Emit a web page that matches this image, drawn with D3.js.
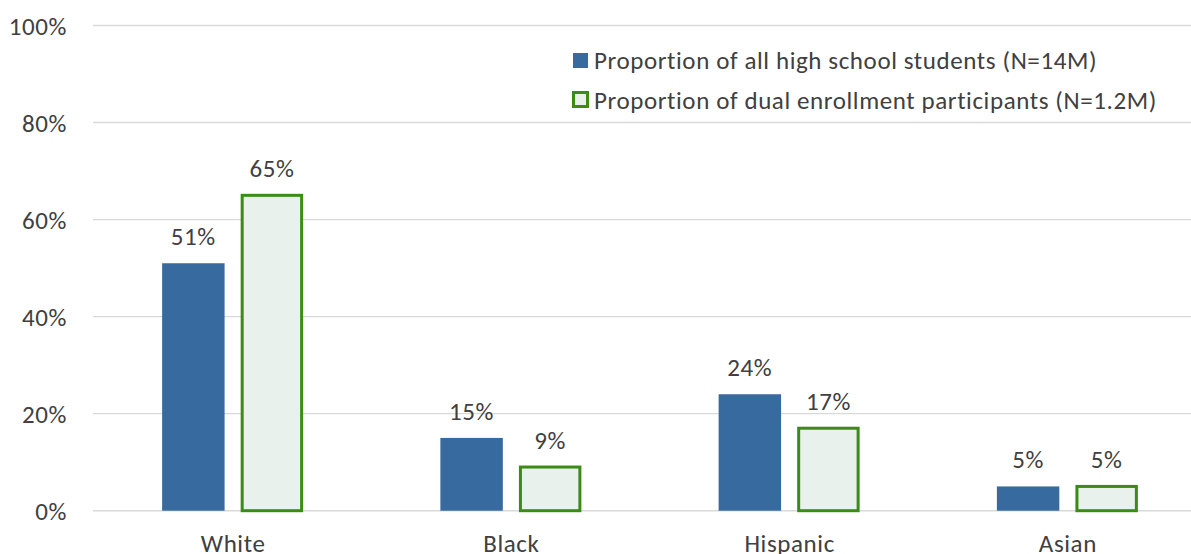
<!DOCTYPE html>
<html><head><meta charset="utf-8">
<script src="https://cdn.jsdelivr.net/npm/d3@7"></script>
<style>
html,body{margin:0;padding:0;background:#fff;}
svg text{font-family:Carlito, Calibri, Lato, "Noto Sans", sans-serif;fill:#404040;letter-spacing:0.6px;}
</style></head>
<body>
<svg id="chart" width="1191" height="554"></svg>
<script>
const categories = ["White", "Black", "Hispanic", "Asian"];
const seriesNames = ["Proportion of all high school students (N=14M)", "Proportion of dual enrollment participants (N=1.2M)"];
const allStudents = [51, 15, 24, 5];
const dualEnrollment = [65, 9, 17, 5];
const yTicks = [0, 20, 40, 60, 80, 100];

const svg = d3.select("#chart");
const W = 1191, H = 554;
const FS = 25;
const plot = {left: 94, right: 1207, top: 25.5, bottom: 510.7};

const y = d3.scaleLinear().domain([0, 100]).range([plot.bottom, plot.top]);
const x0 = d3.scaleBand().domain(categories).range([plot.left, plot.right]).padding(0);
const x1 = d3.scaleBand().domain([0, 1]).range([0, 141]).paddingInner(0.205).paddingOuter(0);

// gridlines
svg.append("g").selectAll("line").data(yTicks).join("line")
  .attr("x1", 93).attr("x2", W)
  .attr("y1", d => y(d)).attr("y2", d => y(d))
  .attr("stroke", "#d9d9d9").attr("stroke-width", 1.4);

// y axis labels
const yAxis = d3.axisLeft(y).tickValues(yTicks).tickFormat(d => d + "%").tickSize(0).tickPadding(0);
const ya = svg.append("g").attr("transform", "translate(67,0)").call(yAxis);
ya.select(".domain").remove();
ya.selectAll("text").attr("font-size", FS).attr("fill", "#404040").attr("dy", "0.35em");

// x axis labels
const xAxis = d3.axisBottom(x0).tickSize(0).tickPadding(0);
const xa = svg.append("g").attr("transform", "translate(0,552)").call(xAxis);
xa.select(".domain").remove();
xa.selectAll("text").attr("font-size", FS).attr("dy", 0).attr("fill", "#404040");

const series = [allStudents, dualEnrollment];
const groupOffset = i => x0(categories[i]) + x0.bandwidth() / 2 - 71;

const g = svg.append("g");
// blue bars
g.selectAll("rect.s0").data(allStudents).join("rect").attr("class", "s0")
  .attr("x", (d, i) => groupOffset(i) + x1(0))
  .attr("width", x1.bandwidth())
  .attr("y", d => y(d)).attr("height", d => y(0) - y(d))
  .attr("fill", "#376a9f");
// green outlined bars
g.selectAll("rect.s1").data(dualEnrollment).join("rect").attr("class", "s1")
  .attr("x", (d, i) => groupOffset(i) + x1(1) + 1.5)
  .attr("width", x1.bandwidth() - 3)
  .attr("y", d => y(d)).attr("height", d => y(0) - y(d))
  .attr("fill", "#e8f1eb").attr("stroke", "#3a8c14").attr("stroke-width", 3);

// data labels
[0, 1].forEach(s => {
  g.selectAll("text.l" + s).data(series[s]).join("text").attr("class", "l" + s)
    .attr("x", (d, i) => groupOffset(i) + x1(s) + x1.bandwidth() / 2)
    .attr("y", d => y(d) - 18)
    .attr("text-anchor", "middle").attr("font-size", FS)
    .text(d => d + "%");
});

// legend
const lg = svg.append("g");
lg.append("rect").attr("x", 573).attr("y", 53).attr("width", 15).attr("height", 15).attr("fill", "#376a9f");
lg.append("rect").attr("x", 573.5).attr("y", 92.5).attr("width", 14).attr("height", 14)
  .attr("fill", "#e8f1eb").attr("stroke", "#3a8c14").attr("stroke-width", 3);
lg.selectAll("text").data(seriesNames).join("text")
  .attr("x", 594).attr("y", (d, i) => 60.5 + i * 40)
  .attr("dy", "0.35em").attr("font-size", FS)
  .text(d => d);
</script>
</body></html>
